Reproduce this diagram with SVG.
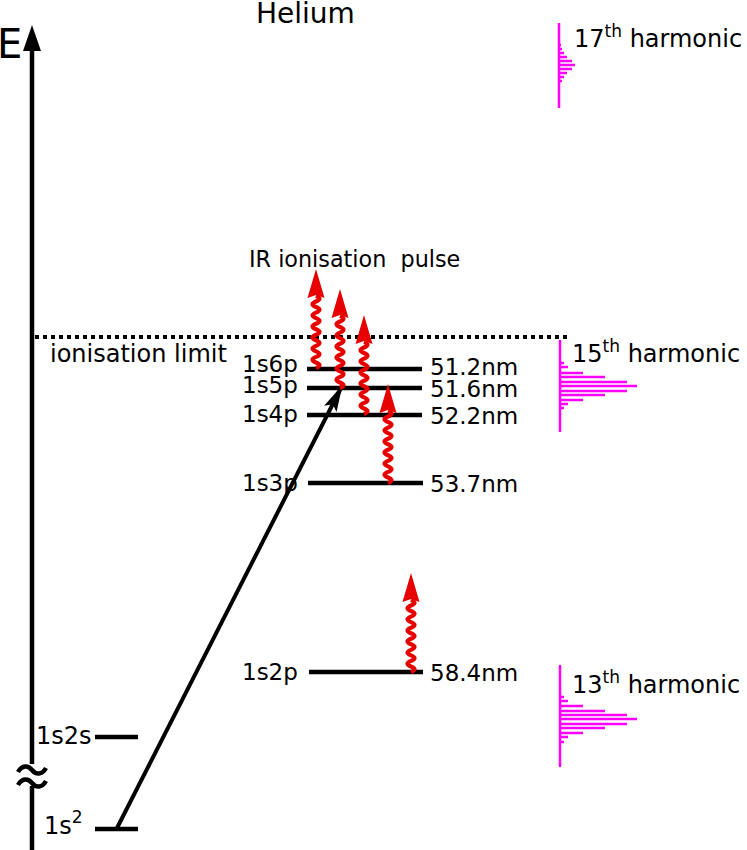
<svg xmlns="http://www.w3.org/2000/svg" width="747" height="850" viewBox="0 0 747 850">
<style>
text{font-family:"DejaVu Sans","Liberation Sans",sans-serif;fill:#000}
.lbl{font-size:24px}
.lv{font-size:23px}
.sup{font-size:17px}
.lvl{stroke:#000;stroke-width:4.5;fill:none}
.spec{stroke:#ff00ff;stroke-width:2.5;fill:none}
.wave{stroke:#e60000;stroke-width:4.2;fill:none}
</style>
<defs>
<g id="wavy">
<path class="wave" d="M0,0 q7,-2.77 0,-5.54 t0,-5.54 t0,-5.54 t0,-5.54 t0,-5.54 t0,-5.54 t0,-5.54 t0,-5.54 t0,-5.54 t0,-5.54 t0,-5.54 t0,-5.54 t0,-5.54"/>
<polygon points="0,-99 8.5,-70 0,-73 -8.5,-70" fill="#e60000"/>
</g>
<marker id="ah" markerUnits="userSpaceOnUse" markerWidth="30" markerHeight="20" refX="0" refY="0" viewBox="-26 -8 28 16" orient="auto">
<path d="M1,0 L-24,-6.5 L-19,0 L-24,6.5 z" fill="#000"/>
</marker>
</defs>
<rect width="747" height="850" fill="#fff"/>

<g id="title"><text x="256" y="23" style="font-size:28px">Helium</text></g>

<g id="axis">
<text x="-3" y="58" style="font-size:40px">E</text>
<path class="lvl" d="M32,48 V764 M32,786 V850"/>
<polygon points="32,25 41,51 23,51" fill="#000"/>
<path class="lvl" d="M18,772 c4,-7 10,-7 14,-2 s10,5 14,-2 M18,785 c4,-7 10,-7 14,-2 s10,5 14,-2"/>
</g>

<g id="ionisation-limit">
<path d="M35,337 H570" stroke="#000" stroke-width="4" stroke-dasharray="4,4"/>
<text class="lbl" x="50" y="362">ionisation limit</text>
</g>

<g id="level-1s2">
<path class="lvl" d="M95,829 H138"/>
<text class="lbl" x="44" y="834">1s<tspan class="sup" dy="-11">2</tspan></text>
</g>
<g id="level-1s2s">
<path class="lvl" d="M95,737 H138"/>
<text class="lbl" x="36" y="744">1s2s</text>
</g>
<g id="level-1s2p">
<path class="lvl" d="M309,672 H423"/>
<text class="lv" x="242" y="680">1s2p</text>
<text class="lv" x="430" y="681">58.4nm</text>
</g>
<g id="level-1s3p">
<path class="lvl" d="M308,483 H423"/>
<text class="lv" x="242" y="491">1s3p</text>
<text class="lv" x="430" y="492">53.7nm</text>
</g>
<g id="level-1s4p">
<path class="lvl" d="M307,415 H422"/>
<text class="lv" x="242" y="422">1s4p</text>
<text class="lv" x="430" y="424">52.2nm</text>
</g>
<g id="level-1s5p">
<path class="lvl" d="M307,388 H422"/>
<text class="lv" x="242" y="393">1s5p</text>
<text class="lv" x="430" y="397">51.6nm</text>
</g>
<g id="level-1s6p">
<path class="lvl" d="M307,369 H422"/>
<text class="lv" x="242" y="372">1s6p</text>
<text class="lv" x="430" y="375">51.2nm</text>
</g>

<g id="ir-label"><text x="249" y="267" style="font-size:22.3px;white-space:pre" xml:space="preserve">IR ionisation  pulse</text></g>

<g id="harmonic-17">
<path class="spec" d="M559,23 V108 M559,45 H561 M559,49 H562 M559,53 H564 M559,57 H567 M559,61 H572 M559,65 H575 M559,69 H572 M559,73 H567 M559,77 H564 M559,81 H562"/>
<text class="lbl" x="574" y="47">17<tspan class="sup" dy="-10">th</tspan><tspan dy="10"> harmonic</tspan></text>
</g>
<g id="harmonic-15">
<path class="spec" d="M560,340 V432 M560,363 H564 M560,367 H568 M560,373 H583 M560,377 H605 M560,382 H627 M560,386 H637 M560,391 H627 M560,395 H605 M560,400 H583 M560,404 H568 M560,408 H564"/>
<text class="lbl" x="572" y="362">15<tspan class="sup" dy="-10">th</tspan><tspan dy="10"> harmonic</tspan></text>
</g>
<g id="harmonic-13">
<path class="spec" d="M560,665 V767 M560,697 H564 M560,701 H568 M560,706 H583 M560,711 H605 M560,715 H627 M560,719 H637 M560,724 H627 M560,728 H605 M560,733 H583 M560,737 H568 M560,742 H564"/>
<text class="lbl" x="572" y="693">13<tspan class="sup" dy="-10">th</tspan><tspan dy="10"> harmonic</tspan></text>
</g>

<g id="connectors">
<path d="M117,828 L342,386" stroke="#000" stroke-width="4" fill="none" marker-end="url(#ah)"/>
<use href="#wavy" transform="translate(316,368)"/>
<use href="#wavy" transform="translate(340,388)"/>
<use href="#wavy" transform="translate(364,414)"/>
<use href="#wavy" transform="translate(388,483)"/>
<use href="#wavy" transform="translate(411,672)"/>
</g>
</svg>
